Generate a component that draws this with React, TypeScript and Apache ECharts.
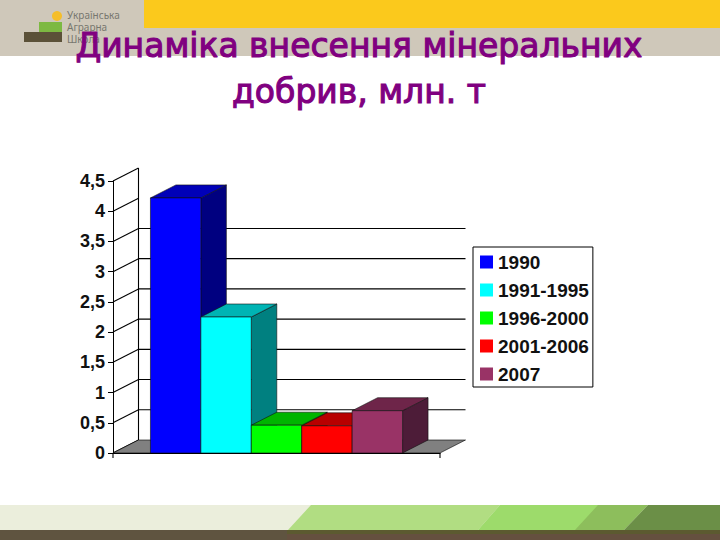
import React, { useEffect, useRef } from "react";
import * as echarts from "echarts";

const categories = ["1990", "1991-1995", "1996-2000", "2001-2006", "2007"];
const values = [4.22, 2.25, 0.46, 0.45, 0.7];
const tickValues = [0, 0.5, 1, 1.5, 2, 2.5, 3, 3.5, 4, 4.5];
const backLineValues = [0.5, 1, 1.5, 2, 2.5, 3, 3.5];
const frontColors = ["#0000FF", "#00FFFF", "#00FF00", "#FF0000", "#993366"];
const topColors = ["#0000B8", "#00B4B4", "#00B400", "#B80000", "#6E2549"];
const sideColors = ["#000080", "#008080", "#008000", "#800000", "#4D1C38"];

const DX = 25.5;
const DY = -13;
const BAR_SHARE = 0.1542;

export default function App() {
  const ref = useRef<HTMLDivElement>(null);
  useEffect(() => {
    const chart = echarts.init(ref.current!, null, { renderer: "svg" });
    const line = { stroke: "#000", lineWidth: 1.1 };

    const wallSeries: any = {
      type: "custom",
      silent: true,
      clip: false,
      z: 1,
      data: tickValues.map((v) => [0, v]),
      encode: { x: 0, y: 1 },
      renderItem: (_p: any, api: any) => {
        const v = api.value(1);
        const [cx, y] = api.coord([0, v]);
        const band = api.size([1, 0])[0];
        const l = cx - band / 2;
        const r = cx + band / 2;
        const children: any[] = [
          { type: "line", shape: { x1: l, y1: y, x2: l + DX, y2: y + DY }, style: line },
        ];
        if (backLineValues.includes(v)) {
          children.push({ type: "line", shape: { x1: l + DX, y1: y + DY, x2: r + DX, y2: y + DY }, style: line });
        }
        if (v === 0) {
          const topY = api.coord([0, 4.5])[1];
          children.push({
            type: "polygon",
            shape: { points: [[l, y], [l + DX, y + DY], [r + DX, y + DY], [r, y]] },
            style: { fill: "#808080", stroke: "#000", lineWidth: 0.6 },
          });
          children.push({ type: "line", shape: { x1: l + DX, y1: y + DY, x2: l + DX, y2: topY + DY }, style: line });
          children.push({ type: "line", shape: { x1: r, y1: y, x2: r, y2: y + 5 }, style: line });
          children.push({ type: "line", shape: { x1: l, y1: y, x2: l, y2: y + 5 }, style: line });
        }
        return { type: "group", children };
      },
    };

    const barSeries: any[] = categories.map((name, i) => ({
      type: "custom",
      name,
      clip: false,
      z: 2 + i,
      itemStyle: { color: frontColors[i] },
      data: [[0, values[i]]],
      encode: { x: 0, y: 1 },
      renderItem: (_p: any, api: any) => {
        const [cx, y] = api.coord([0, api.value(1)]);
        const y0 = api.coord([0, 0])[1];
        const band = api.size([1, 0])[0];
        const w = band * BAR_SHARE;
        const x = cx - (w * categories.length) / 2 + w * i;
        const edge = { stroke: "#111", lineWidth: 0.6 };
        return {
          type: "group",
          children: [
            {
              type: "polygon",
              shape: { points: [[x + w, y], [x + w + DX, y + DY], [x + w + DX, y0 + DY], [x + w, y0]] },
              style: { fill: sideColors[i], ...edge },
            },
            {
              type: "polygon",
              shape: { points: [[x, y], [x + DX, y + DY], [x + w + DX, y + DY], [x + w, y]] },
              style: { fill: topColors[i], ...edge },
            },
            { type: "rect", shape: { x, y, width: w, height: y0 - y }, style: { fill: frontColors[i], ...edge } },
          ],
        };
      },
    }));

    const poly = (points: number[][], fill: string) => ({
      type: "polygon",
      silent: true,
      shape: { points },
      style: { fill },
    });
    const box = (x: number, y: number, width: number, height: number, fill: string) => ({
      type: "rect",
      silent: true,
      shape: { x, y, width, height },
      style: { fill },
    });
    const logoText = (y: number, text: string) => ({
      type: "text",
      silent: true,
      x: 67,
      y,
      style: { text, fill: "#77776F", font: "10px 'Noto Sans'", textVerticalAlign: "middle" },
    });

    chart.setOption({
      animation: false,
      backgroundColor: "#FFFFFF",
      title: {
        text: "Динаміка внесення мінеральних\nдобрив, млн. т",
        left: 354,
        top: 17,
        textAlign: "center",
        textStyle: {
          color: "#800080",
          fontFamily: "DejaVu Sans",
          fontWeight: "normal",
          fontSize: 33,
          lineHeight: 46,
          textBorderColor: "#800080",
          textBorderWidth: 1.1,
        },
      },
      grid: { left: 113, top: 181, width: 327, height: 272 },
      xAxis: {
        type: "category",
        data: [""],
        axisLine: { show: true, lineStyle: { color: "#000", width: 1 } },
        axisTick: { show: false },
        axisLabel: { show: false },
        z: 20,
      },
      yAxis: {
        type: "value",
        min: 0,
        max: 4.5,
        interval: 0.5,
        splitLine: { show: false },
        axisLine: { show: true, lineStyle: { color: "#000", width: 1 } },
        axisTick: { show: true, length: 5, lineStyle: { color: "#000" } },
        axisLabel: {
          color: "#111",
          fontFamily: "Liberation Sans",
          fontWeight: "bold",
          fontSize: 18,
          margin: 8,
          padding: [3, 0, 0, 0],
          formatter: (v: number) => String(v).replace(".", ","),
        },
      },
      legend: {
        orient: "vertical",
        left: 473,
        top: 247,
        data: categories,
        icon: "rect",
        itemWidth: 13,
        itemHeight: 13,
        itemGap: 8,
        padding: [5, 4, 3, 7],
        borderColor: "#000",
        borderWidth: 1,
        selectedMode: false,
        textStyle: {
          color: "#111",
          fontFamily: "Liberation Sans",
          fontWeight: "bold",
          fontSize: 19,
          lineHeight: 20,
        },
        itemStyle: { borderWidth: 0 },
      },
      graphic: [
        box(0, 0, 720, 56, "#CFC8BA"),
        box(144, 0, 576, 28, "#FBC91C"),
        { type: "circle", silent: true, shape: { cx: 57, cy: 16, r: 5 }, style: { fill: "#F5BE2A" } },
        box(39, 22, 23, 10, "#7DB942"),
        box(24, 32, 38, 10, "#5B5138"),
        logoText(15, "Українська"),
        logoText(27, "Аграрна"),
        logoText(39, "Школа"),
        box(0, 505, 720, 25, "#EBEEDC"),
        poly([[288, 530], [311, 505], [500, 505], [478, 530]], "#B1DD82"),
        poly([[478, 530], [500, 505], [600, 505], [578, 530]], "#9DDB6B"),
        poly([[575, 530], [598, 505], [648, 505], [624, 530]], "#8DBE5C"),
        poly([[624, 530], [648, 505], [720, 505], [720, 530]], "#6B8F47"),
        box(0, 530, 287, 10, "#5F5440"),
        box(287, 530, 433, 4, "#5C5A30"),
        box(287, 534, 433, 6, "#65503F"),
      ],
      series: [wallSeries, ...barSeries],
    });
    return () => chart.dispose();
  }, []);
  return <div ref={ref} style={{ position: "absolute", left: 0, top: 0, width: 720, height: 540 }} />;
}
